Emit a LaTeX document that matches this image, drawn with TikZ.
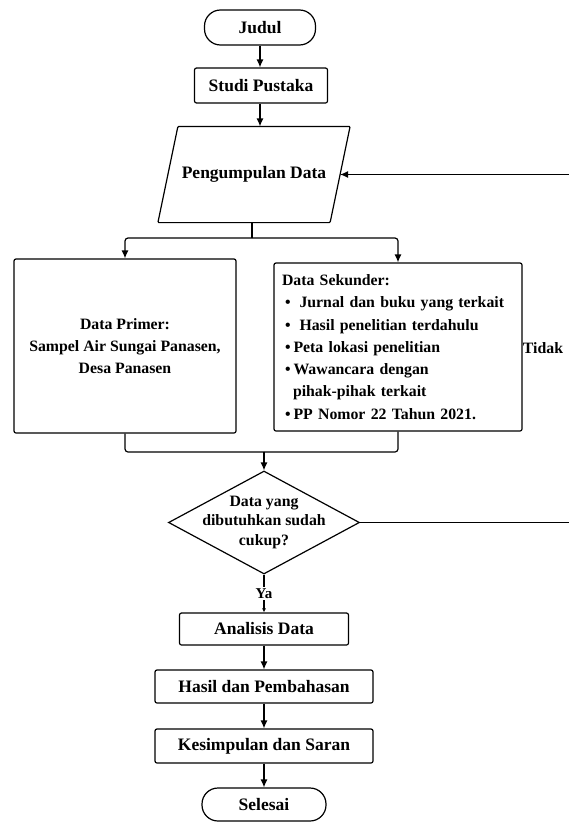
\documentclass[tikz,border=0pt]{standalone}
\usepackage{fontspec}
\setmainfont{Liberation Serif}
\usetikzlibrary{shapes.geometric, arrows.meta}

\begin{document}
\begin{tikzpicture}[x=1pt, y=-1pt, >={Latex[length=8pt, width=7pt]}, line width=1.2pt]
    \tikzset{
        terminal/.style={rectangle, draw, rounded corners=16pt, minimum width=111pt, minimum height=35pt, font=\bfseries\fontsize{17.5}{21}\selectfont},
        process/.style={rectangle, draw, rounded corners=2pt, minimum height=33pt, font=\bfseries\fontsize{17.5}{21}\selectfont},
        io/.style={rectangle, minimum width=171pt, minimum height=95pt, font=\bfseries\fontsize{17.5}{21}\selectfont},
        databox/.style={rectangle, draw, rounded corners=2pt, font=\bfseries\fontsize{15.8}{22.3}\selectfont},
        decision/.style={diamond, draw, inner sep=0pt, minimum width=191pt, minimum height=103pt},
        dectext/.style={align=center, font=\bfseries\fontsize{15.8}{19.5}\selectfont},
        link/.style={rounded corners=3pt}
    }
    \useasboundingbox (0,0) rectangle (568,822);

        \node[terminal] (judul) at (260,27.5) {Judul};
        \node[process, minimum width=133pt, minimum height=35pt] (studi) at (261,85.5) {Studi Pustaka};
        \node[io] (kumpul) at (254,174.5) {Pengumpulan Data};
        \draw[rounded corners=1pt] ([xshift=10pt]kumpul.north west) -- ([xshift=10pt]kumpul.north east)
            -- ([xshift=-10pt]kumpul.south east) -- ([xshift=-10pt]kumpul.south west) -- cycle;

        \node[databox, minimum width=222pt, minimum height=174pt, align=center] (primer) at (125,346) {Data Primer:\\Sampel Air Sungai Panasen,\\Desa Panasen};
        \node[databox, minimum width=248pt, minimum height=168pt, text width=232pt, inner sep=8pt, align=left] (sekunder) at (398,347) {Data Sekunder:\\
            \hspace*{3pt}•\hspace{9pt}Jurnal dan buku yang terkait\\
            \hspace*{3pt}•\hspace{9pt}Hasil penelitian terdahulu\\
            \hspace*{3pt}•\hspace{3pt}Peta lokasi penelitian\\
            \hspace*{3pt}•\hspace{3pt}Wawancara dengan\\
            \hspace*{11pt}pihak-pihak terkait\\
            \hspace*{3pt}•\hspace{3pt}PP Nomor 22 Tahun 2021.};

        \node[decision] (dec) at (264,522.5) {};
        \node[dectext] (dectxt) at (dec) {Data yang\\dibutuhkan sudah\\cukup?};
        \node[process, minimum width=169pt, minimum height=32pt] (analisis) at (264,629) {Analisis Data};
        \node[process, minimum width=218pt] (hasil) at (264,686.5) {Hasil dan Pembahasan};
        \node[process, minimum width=218pt, minimum height=34pt] (simpul) at (264,746) {Kesimpulan dan Saran};
        \node[terminal, minimum width=124pt, minimum height=33pt] (selesai) at (264,804.5) {Selesai};

        \coordinate (split) at (252,238);
        \coordinate (merge) at (264,452);
        \coordinate (back) at (590,348);
        \node[anchor=east, font=\bfseries\fontsize{15.8}{19}\selectfont] (tidak) at (567,348) {Tidak};

        \draw[->] (judul) -- (studi.north -| judul);
        \draw[->] (studi.south -| judul) -- (kumpul.north -| judul);
        \draw (split |- kumpul.south) -- (split);
        \draw[->, link] (split) -| (primer.north);
        \draw[->, link] (split) -| (sekunder.north);
        \draw[link] (primer.south) |- (merge);
        \draw[link] (sekunder.south) |- (merge);
        \draw[->] (merge) -- (dec.north);
        \draw[-{Latex[length=4pt, width=4pt]}] (dec.south) -- node[fill=white, inner sep=1.5pt, font=\bfseries\fontsize{15}{18}\selectfont] (ya) {Ya} (analisis.north);
        \draw[->] (analisis) -- (hasil);
        \draw[->] (hasil) -- (simpul);
        \draw[->] (simpul) -- (selesai);
        \draw[->] (dec.east) -| (back) |- (kumpul.east);

    \end{tikzpicture}
\end{document}
